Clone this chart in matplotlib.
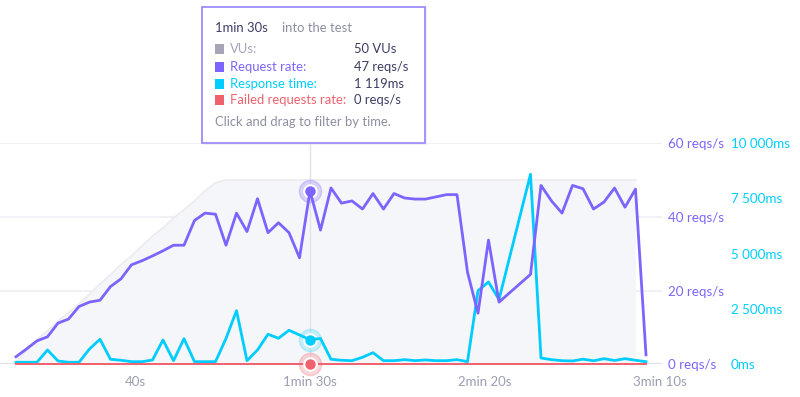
import matplotlib.pyplot as plt
from matplotlib.patches import Rectangle

plt.rcParams['font.family'] = ['Lato', 'DejaVu Sans']

# seconds into the test (no samples at 147s and 150s)
times = [6, 9, 12, 15, 18, 21, 24, 27, 30, 33, 36, 39, 42, 45, 48, 51, 54, 57, 60, 63,
         66, 69, 72, 75, 78, 81, 84, 87, 90, 93, 96, 99, 102, 105, 108, 111, 114, 117,
         120, 123, 126, 129, 132, 135, 138, 141, 144,
         153, 156, 159, 162, 165, 168, 171, 174, 177, 180, 183, 186]

request_rate = [2.1, 4.2, 6.4, 7.5, 11.2, 12.3, 15.7, 16.9, 17.4, 21.1,
                23.2, 27.0, 28.1, 29.4, 30.8, 32.3, 32.3, 39.0, 41.0, 40.7,
                32.3, 41.0, 36.0, 44.9, 35.7, 38.4, 35.7, 28.9, 47.0, 36.4,
                47.8, 43.7, 44.3, 42.1, 46.3, 42.1, 46.3, 45.1, 44.8, 44.8,
                45.4, 46.0, 46.0, 25.0, 13.9, 33.7, 16.9, 24.4, 48.5, 44.3,
                41.0, 48.5, 47.6, 42.1, 44.0, 47.8, 42.6, 47.5, 2.6]

response_time = [100, 100, 100, 655, 158, 100, 100, 700, 1138, 235,
                 190, 126, 126, 203, 1106, 172, 1165, 126, 126, 126,
                 1174, 2429, 172, 655, 1364, 1183, 1544, 1332, 1119, 1174,
                 235, 190, 172, 325, 533, 172, 172, 217, 172, 203,
                 172, 172, 217, 126, 3332, 3725, 2935,
                 8588, 293, 217, 172, 158, 240, 167, 262, 181, 262, 190, 126]

failed_rate = [0] * len(times)

# VUs recorded up to 183s
vus = [0.5, 3.7, 6.8, 9.1, 11.8, 14, 16.4, 19.1, 21.8, 24.3,
       27.1, 29.4, 32.1, 34.8, 37, 39.7, 41.9, 44.3, 47, 49.2,
       50, 50, 50, 50, 50, 50, 50, 50, 50, 50,
       50, 50, 50, 50, 50, 50, 50, 50, 50, 50,
       50, 50, 50, 50, 50, 50, 50,
       50, 50, 50, 50, 50, 50, 50, 50, 50, 50, 50]

req_ticks = [0, 20, 40, 60]
ms_ticks = [0, 2500, 5000, 7500, 10000]
ms_labels = ['0ms', '2 500ms', '5 000ms', '7 500ms', '10 000ms']
x_ticks = [40, 90, 140, 190]
x_labels = ['40s', '1min 30s', '2min 20s', '3min 10s']
hover = 28  # index of hovered sample (1min 30s)

PURPLE = '#7d64ff'
CYAN = '#00cdff'
RED = '#f0616e'
GRAY = '#9d9db2'
DARK = '#3c3c64'

fig = plt.figure(figsize=(8, 3.97), dpi=100)
ax = fig.add_axes([0, 0.0819, 0.8275, 0.558])
ax2 = ax.twinx()
ax3 = ax.twinx()

# VU area + grid on bottom axis
ax.fill_between(times[:len(vus)], vus, color='#f5f6f9', lw=0, zorder=1)
ax.plot(times[:len(vus)], vus, color='#ebebf0', lw=1.2, zorder=1)
ax.set_xlim(1.43, 190.57)
ax.set_ylim(0, 60)
for y in req_ticks[1:]:
    ax.axhline(y, color='#efeff3', lw=1.2, zorder=0)
ax.axhline(0, color='#dfe1ea', lw=1.6, zorder=0)
ax.axvline(times[hover], color='#e2e2ea', lw=1, zorder=2)

ax.yaxis.tick_right()
ax.set_yticks(req_ticks)
ax.set_yticklabels([f'{v} reqs/s' for v in req_ticks])
ax.tick_params(axis='y', length=0, pad=4.3, labelcolor=PURPLE, labelsize=9.6)
ax.set_xticks(x_ticks)
ax.set_xticklabels(x_labels)
ax.tick_params(axis='x', length=0, pad=8, labelcolor=GRAY, labelsize=9.5)

# response time axis
ax2.plot(times, response_time, color=CYAN, lw=2.0, zorder=3, clip_on=False)
ax2.set_ylim(0, 10000)
ax2.set_yticks(ms_ticks)
ax2.set_yticklabels(ms_labels)
ax2.tick_params(axis='y', length=0, pad=49.7, labelcolor=CYAN, labelsize=9.6)
ax2.plot(times[hover], response_time[hover], 'o', ms=16, color=CYAN, alpha=0.2, clip_on=False)
ax2.plot(times[hover], response_time[hover], 'o', ms=9, color=CYAN, mec='white', mew=1.5, clip_on=False)

# request rate + failures on top
ax3.set_ylim(0, 60)
ax3.set_yticks([])
ax3.plot(times, failed_rate, color=RED, lw=1.4, zorder=2, clip_on=False)
ax3.plot(times, request_rate, color=PURPLE, lw=2.0, zorder=3, clip_on=False)
ax3.plot(times[hover], request_rate[hover], 'o', ms=16, color=PURPLE, alpha=0.25, clip_on=False)
ax3.plot(times[hover], request_rate[hover], 'o', ms=9, color=PURPLE, mec='white', mew=1.5, clip_on=False)
ax3.plot(times[hover], failed_rate[hover], 'o', ms=16, color=RED, alpha=0.25, clip_on=False)
ax3.plot(times[hover], failed_rate[hover], 'o', ms=9, color=RED, mec='white', mew=1.5, clip_on=False)

for a in (ax, ax2, ax3):
    for s in a.spines.values():
        s.set_visible(False)
ax2.patch.set_visible(False)
ax3.patch.set_visible(False)


# tooltip (pixel positions converted to figure fractions)
def fx(px):
    return px / 800


def fy(py):
    return 1 - py / 397


fig.patches.append(Rectangle((fx(203), fy(145)), fx(224), 138 / 397, transform=fig.transFigure,
                             facecolor='#e9e9ef', edgecolor='none', alpha=0.6, zorder=9))
fig.patches.append(Rectangle((fx(202), fy(143)), fx(223), 136 / 397, transform=fig.transFigure,
                             facecolor='white', edgecolor='#9c8cff', lw=1.3, zorder=10))

fs = 9.4
fig.text(fx(215), fy(28), f'{x_labels[1]}', color=DARK, fontsize=fs, va='center', zorder=11)
fig.text(fx(282), fy(28), 'into the test', color='#8e8ea2', fontsize=fs, va='center', zorder=11)
rows = [('VUs:', f'{vus[hover]:.0f} VUs', '#a5a5b5', '#a5a5b5', 49),
        ('Request rate:', f'{request_rate[hover]:.0f} reqs/s', PURPLE, PURPLE, 67),
        ('Response time:', '1 119ms', CYAN, CYAN, 84),
        ('Failed requests rate:', f'{failed_rate[hover]} reqs/s', RED, RED, 100)]
for label, value, sq, col, py in rows:
    fig.patches.append(Rectangle((fx(214.5), fy(py + 4.5)), fx(9), 9 / 397, transform=fig.transFigure,
                                 facecolor=sq, edgecolor='none', zorder=11))
    fig.text(fx(230), fy(py), label, color=col, fontsize=fs, va='center', zorder=11)
    fig.text(fx(354), fy(py), value, color=DARK, fontsize=fs, va='center', zorder=11)
fig.text(fx(215), fy(122), 'Click and drag to filter by time.', color='#8e8ea2', fontsize=fs,
         va='center', zorder=11)

fig.savefig('out.png', dpi=100)
